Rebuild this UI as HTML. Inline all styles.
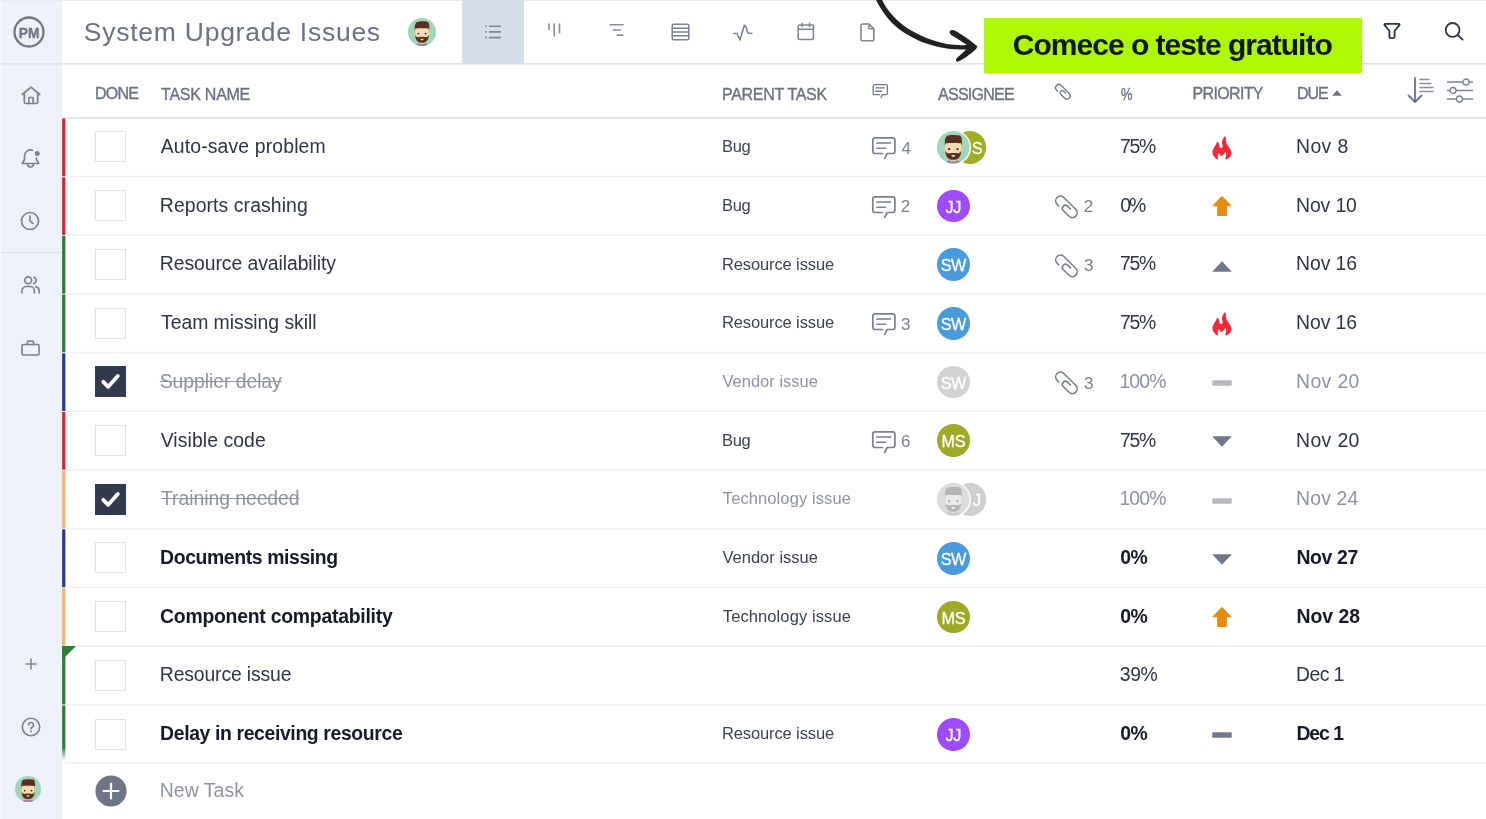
<!DOCTYPE html>
<html lang="en">
<head>
<meta charset="utf-8">
<title>System Upgrade Issues</title>
<style>
*{margin:0;padding:0;box-sizing:border-box}
html,body{width:1486px;height:819px;overflow:hidden;background:#fff}
body{font-family:"Liberation Sans",sans-serif;color:#2f3546;position:relative;filter:blur(0.4px)}
.abs{position:absolute}
#side{position:absolute;left:0;top:0;width:61.5px;height:819px;background:#edf1f8}
#side .div{position:absolute;left:0;width:62px;height:1px;background:#dde1ea}
#topline{position:absolute;left:0;top:0;width:1486px;height:1px;background:#e9ebf0}
#tabact{position:absolute;left:461.8px;top:0;width:62.5px;height:63.5px;background:#d7dde9}
#cta{position:absolute;left:984px;top:18px;width:377.5px;height:54.5px;background:#aef805}
.cb{position:absolute;left:94.5px;width:31px;height:31px;border:1px solid #dfe2ea;background:#fff}
.cb.on{background:#343a4d;border-color:#343a4d}
.cb.on svg{position:absolute;left:-1px;top:-1px}
.t{position:absolute;white-space:nowrap;line-height:40px}
.av{position:absolute;width:32.8px;height:32.8px;border-radius:50%;color:#fff;font-size:16.2px;line-height:34px;text-align:center;letter-spacing:-0.4px;text-indent:-0.4px;-webkit-text-stroke:0.3px #fff}
</style>
</head>
<body>
<div id="side">
  <svg class="abs" style="left:12.9px;top:15.8px" width="32" height="32" viewBox="0 0 32 32"><circle cx="16" cy="16" r="14.5" fill="none" stroke="#6f7587" stroke-width="2.3"/><text x="5.7" y="21.8" font-family="Liberation Sans, sans-serif" font-weight="bold" font-size="15.3" fill="#6f7587" stroke="#6f7587" stroke-width="0.3" textLength="20.8" lengthAdjust="spacingAndGlyphs">PM</text></svg>
  <svg class="abs" style="left:20.5px;top:85.5px" width="20" height="19" viewBox="0 0 20 19" fill="none" stroke="#7d818c" stroke-width="1.7" stroke-linejoin="round" stroke-linecap="round"><path d="M1.2 8.5 L10 1.2 L18.8 8.5"/><path d="M3.3 7.5 V16.2 a1.3 1.3 0 0 0 1.3 1.3 H15.4 a1.3 1.3 0 0 0 1.3 -1.3 V7.5"/><path d="M7.8 17.5 V12.5 a1 1 0 0 1 1 -1 H11.2 a1 1 0 0 1 1 1 V17.5"/></svg>
  <svg class="abs" style="left:21px;top:147.5px" width="20" height="21" viewBox="0 0 20 21" fill="none" stroke="#7d818c" stroke-width="1.7" stroke-linejoin="round" stroke-linecap="round"><path d="M11.5 2.3 A6 6 0 0 0 3.5 8 V11.5 L1.3 15.5 H17.7 L15.5 11.5 V10"/><path d="M6.5 16 a3 3 0 0 0 6 0"/><circle cx="16.2" cy="5.6" r="2.5" fill="#7d818c" stroke="none"/></svg>
  <svg class="abs" style="left:20.3px;top:210.9px" width="20" height="20" viewBox="0 0 20 20" fill="none" stroke="#7d818c" stroke-width="1.7" stroke-linejoin="round" stroke-linecap="round"><circle cx="10" cy="10" r="8.5"/><path d="M10 5 V10 L13 12.5"/></svg>
  <div class="div" style="top:252px"></div>
  <svg class="abs" style="left:20.6px;top:275.3px" width="19.2" height="19.2" viewBox="0 0 20 20" fill="none" stroke="#7d818c" stroke-width="1.7" stroke-linejoin="round" stroke-linecap="round"><circle cx="7.5" cy="5.5" r="3.6"/><path d="M1 18.7 V16.5 a4.5 4.5 0 0 1 4.5 -4.5 H9.5 a4.5 4.5 0 0 1 4.5 4.5 V18.7"/><path d="M13.3 2.1 a3.6 3.6 0 0 1 0 6.8"/><path d="M15.5 12.3 a4.5 4.5 0 0 1 3.5 4.3 V18.7"/></svg>
  <svg class="abs" style="left:20.6px;top:339.7px" width="19" height="16.15" viewBox="0 0 20 17" fill="none" stroke="#7d818c" stroke-width="1.7" stroke-linejoin="round" stroke-linecap="round"><rect x="1" y="4.8" width="18" height="11" rx="1.5"/><path d="M6.8 4.8 V2.5 a1.3 1.3 0 0 1 1.3 -1.3 H11.9 a1.3 1.3 0 0 1 1.3 1.3 V4.8"/></svg>
  <svg class="abs" style="left:24.8px;top:658.3px" width="12" height="12" viewBox="0 0 12 12" fill="none" stroke="#7d818c" stroke-width="1.5"><path d="M6 0.5 V11.5 M0.5 6 H11.5"/></svg>
  <svg class="abs" style="left:20.8px;top:716.8px" width="20" height="20" viewBox="0 0 20 20" fill="none" stroke="#7d818c" stroke-width="1.6" stroke-linecap="round"><circle cx="10" cy="10" r="8.7"/><path d="M7.5 8 a2.5 2.5 0 1 1 3.5 2.3 c-0.7 0.4 -1 0.8 -1 1.7"/><circle cx="10" cy="14.5" r="1" fill="#7d818c" stroke="none"/></svg>
  <svg class="abs" style="left:14.9px;top:775.9px" width="26.2" height="26.2" viewBox="0 0 28 28">
<defs><clipPath id="ct2"><circle cx="14" cy="14" r="14"/></clipPath></defs>
<circle cx="14" cy="14" r="14" fill="#9fd5bb"/>
<g clip-path="url(#ct2)">
<path d="M7.5 29 C7.5 25.8 10 25 14 25 C18 25 20.5 25.8 20.5 29 Z" fill="#8b88a2"/>
<rect x="11.5" y="22" width="5" height="4" fill="#f3c59a"/>
<circle cx="6.9" cy="16.6" r="1.3" fill="#f3c59a"/><circle cx="21.1" cy="16.6" r="1.3" fill="#f3c59a"/>
<rect x="7.4" y="8.5" width="13.2" height="13" rx="3" fill="#f8dcb1"/>
<path d="M6.8 12.5 C6.4 6.5 7.5 3.8 10.5 3.7 C12.5 3.2 17 3.3 19.5 3.8 C21.5 4.5 21.6 8 21.2 12.5 L20.6 10.6 C17 10.2 11 10.2 7.4 10.6 Z" fill="#5b2f1d"/>
<path d="M7.2 16.5 C7 21.5 9.5 24.8 14 24.8 C18.5 24.8 21 21.5 20.8 16.5 C20.3 18.6 19 19.3 17 19.1 C15.5 18.7 12.5 18.7 11 19.1 C9 19.3 7.7 18.6 7.2 16.5 Z" fill="#5b2f1d"/>
<path d="M12.4 20.7 H15.6 C15.6 21.8 15 22.3 14 22.3 C13 22.3 12.4 21.8 12.4 20.7 Z" fill="#d9cfcb"/>
<circle cx="10.4" cy="15.6" r="0.95" fill="#3a2a20"/><circle cx="17.6" cy="15.6" r="0.95" fill="#3a2a20"/>
</g></svg>
</div>
<div class="abs" style="left:0;top:0;width:1px;height:819px;background:#f7f8fc"></div>
<div id="topline"></div>
<svg class="abs" style="left:0;top:0" width="1486" height="819" viewBox="0 0 1486 819"><defs><linearGradient id="fade" x1="0" y1="0" x2="0" y2="1"><stop offset="0" stop-color="#2f7d3b"/><stop offset="0.76" stop-color="#2f7d3b"/><stop offset="1" stop-color="#2f7d3b" stop-opacity="0"/></linearGradient></defs><rect x="0" y="63.05" width="1486" height="1.5" fill="#dfe2e9"/><rect x="61.5" y="116.9" width="1425" height="2" fill="#e3e5ec"/><rect x="62.1" y="118.45" width="3.3" height="57.8" rx="0.6" fill="#e5202e"/><rect x="65.6" y="175.75" width="1421" height="1.5" fill="#eef0f5"/><rect x="62.1" y="177.15" width="3.3" height="57.8" rx="0.6" fill="#e5202e"/><rect x="65.6" y="234.45" width="1421" height="1.5" fill="#eef0f5"/><rect x="62.1" y="235.85" width="3.3" height="57.8" rx="0.6" fill="#2f7d3b"/><rect x="65.6" y="293.15" width="1421" height="1.5" fill="#eef0f5"/><rect x="62.1" y="294.55" width="3.3" height="57.8" rx="0.6" fill="#2f7d3b"/><rect x="65.6" y="351.85" width="1421" height="1.5" fill="#eef0f5"/><rect x="62.1" y="353.25" width="3.3" height="57.8" rx="0.6" fill="#2b36a0"/><rect x="65.6" y="410.55" width="1421" height="1.5" fill="#eef0f5"/><rect x="62.1" y="411.95" width="3.3" height="57.8" rx="0.6" fill="#e5202e"/><rect x="65.6" y="469.25" width="1421" height="1.5" fill="#eef0f5"/><rect x="62.1" y="470.65" width="3.3" height="57.8" rx="0.6" fill="#f4b678"/><rect x="65.6" y="527.95" width="1421" height="1.5" fill="#eef0f5"/><rect x="62.1" y="529.35" width="3.3" height="57.8" rx="0.6" fill="#2b36a0"/><rect x="65.6" y="586.65" width="1421" height="1.5" fill="#eef0f5"/><rect x="62.1" y="588.05" width="3.3" height="57.8" rx="0.6" fill="#f4b678"/><rect x="65.6" y="645.35" width="1421" height="1.5" fill="#eef0f5"/><rect x="62.1" y="646.75" width="3.3" height="57.8" rx="0.6" fill="#2f7d3b"/><rect x="65.6" y="704.05" width="1421" height="1.5" fill="#eef0f5"/><rect x="62.1" y="705.45" width="3.3" height="55" rx="0.6" fill="url(#fade)"/><rect x="65.6" y="762.1" width="1421" height="1.5" fill="#eef0f5"/></svg>
<div id="tabact"></div>
<div class="t" style="left:83.8px;top:12px;font-size:26.5px;letter-spacing:0.75px;color:#6b7283;">System Upgrade Issues</div>
<svg class="abs" style="left:408px;top:17.8px" width="28" height="28" viewBox="0 0 28 28">
<defs><clipPath id="ct1"><circle cx="14" cy="14" r="14"/></clipPath></defs>
<circle cx="14" cy="14" r="14" fill="#9fd5bb"/>
<g clip-path="url(#ct1)">
<path d="M7.5 29 C7.5 25.8 10 25 14 25 C18 25 20.5 25.8 20.5 29 Z" fill="#8b88a2"/>
<rect x="11.5" y="22" width="5" height="4" fill="#f3c59a"/>
<circle cx="6.9" cy="16.6" r="1.3" fill="#f3c59a"/><circle cx="21.1" cy="16.6" r="1.3" fill="#f3c59a"/>
<rect x="7.4" y="8.5" width="13.2" height="13" rx="3" fill="#f8dcb1"/>
<path d="M6.8 12.5 C6.4 6.5 7.5 3.8 10.5 3.7 C12.5 3.2 17 3.3 19.5 3.8 C21.5 4.5 21.6 8 21.2 12.5 L20.6 10.6 C17 10.2 11 10.2 7.4 10.6 Z" fill="#5b2f1d"/>
<path d="M7.2 16.5 C7 21.5 9.5 24.8 14 24.8 C18.5 24.8 21 21.5 20.8 16.5 C20.3 18.6 19 19.3 17 19.1 C15.5 18.7 12.5 18.7 11 19.1 C9 19.3 7.7 18.6 7.2 16.5 Z" fill="#5b2f1d"/>
<path d="M12.4 20.7 H15.6 C15.6 21.8 15 22.3 14 22.3 C13 22.3 12.4 21.8 12.4 20.7 Z" fill="#d9cfcb"/>
<circle cx="10.4" cy="15.6" r="0.95" fill="#3a2a20"/><circle cx="17.6" cy="15.6" r="0.95" fill="#3a2a20"/>
</g></svg>
<!-- view icons -->
<svg class="abs" style="left:482px;top:22px" width="22" height="20" viewBox="0 0 22 20" fill="none" stroke="#7f8494" stroke-width="1.6"><path d="M7 4.2 H19 M7 9.9 H19 M7 15.6 H19"/><path d="M3 4.2 H4.7 M3 9.9 H4.7 M3 15.6 H4.7"/></svg>
<svg class="abs" style="left:544px;top:20px" width="20" height="20" viewBox="0 0 20 20" fill="none" stroke="#8a8e9a" stroke-width="1.6"><path d="M4.9 3.5 V10 M10.2 3.5 V16.5 M15.5 3.5 V13.5"/></svg>
<svg class="abs" style="left:607px;top:22px" width="20" height="20" viewBox="0 0 20 20" fill="none" stroke="#8a8e9a" stroke-width="1.6"><path d="M2.5 2.8 H16.5 M5.5 8 H14 M9.7 13.1 H16.5"/></svg>
<svg class="abs" style="left:670.7px;top:22.7px" width="19" height="18" viewBox="0 0 19 18" fill="none" stroke="#7f8494" stroke-width="1.6" stroke-linejoin="round"><rect x="1.2" y="1.2" width="16.6" height="15.6" rx="1.5"/><path d="M1.2 5.2 H17.8 M1.2 9 H17.8 M1.2 12.8 H17.8"/></svg>
<svg class="abs" style="left:732px;top:21.5px" width="22" height="22" viewBox="0 0 22 22" fill="none" stroke="#7f8494" stroke-width="1.6" stroke-linejoin="round" stroke-linecap="round"><path d="M1.8 11.5 H5 L8 18 L12.3 3.5 C13.3 3 14.3 5 15.3 9.5 C15.8 11.3 17.3 11.8 19.8 11.3"/></svg>
<svg class="abs" style="left:796.5px;top:22px" width="18" height="19" viewBox="0 0 18 19" fill="none" stroke="#7f8494" stroke-width="1.6" stroke-linejoin="round" stroke-linecap="round"><rect x="1.2" y="3" width="15.2" height="14.5" rx="1.5"/><path d="M1.2 7.3 H16.4 M5 1.2 V4.5 M12.6 1.2 V4.5"/></svg>
<svg class="abs" style="left:859.5px;top:22.9px" width="15" height="19" viewBox="0 0 15 19" fill="none" stroke="#7f8494" stroke-width="1.6" stroke-linejoin="round"><path d="M2.5 1 H9 L13.8 5.8 V16.3 a1.5 1.5 0 0 1 -1.5 1.5 H2.5 a1.5 1.5 0 0 1 -1.5 -1.5 V2.5 a1.5 1.5 0 0 1 1.5 -1.5 Z"/><path d="M9 1 V5.8 H13.8"/></svg>
<!-- arrow -->
<svg class="abs" style="left:860px;top:0" width="130" height="70" viewBox="860 0 130 70"><path d="M872.4 -6.5 C872 -5.4 874.7 -2.4 876.1 0 C877.4 2.4 878.8 5.4 880.5 8.1 C882.2 10.8 883.9 13.3 886.2 16.2 C888.4 19 891.5 22.5 894.2 25 C896.9 27.6 899.6 29.6 902.3 31.5 C905 33.4 907.7 34.9 910.4 36.3 C913.1 37.8 915.8 39.2 918.5 40.4 C921.2 41.6 923.9 42.7 926.5 43.6 C929.2 44.6 931.9 45.3 934.6 46 C937.3 46.7 940 47.3 942.7 47.8 C945.4 48.3 948.1 48.6 950.8 48.9 C953.5 49.1 956.2 49.3 958.9 49.4 C961.5 49.5 964.8 49.5 966.9 49.4 C969.1 49.3 971 49.4 971.8 48.9 C972.6 48.3 972.6 46.7 971.8 46 C971 45.4 968.4 45.1 966.9 45 C965.4 44.9 964.9 45.3 962.9 45.2 C960.9 45.2 957.5 45.1 954.8 44.8 C952.1 44.6 949.4 44.3 946.7 43.9 C944 43.4 941.4 42.7 938.7 42 C936 41.3 933.3 40.5 930.6 39.6 C927.9 38.6 925.2 37.6 922.5 36.3 C919.8 35.1 917.1 33.8 914.4 32.3 C911.7 30.8 909 29.3 906.3 27.5 C903.7 25.6 900.7 23.2 898.3 21 C895.8 18.8 893.8 16.8 891.8 14.5 C889.8 12.3 887.8 9.7 886.2 7.3 C884.5 4.8 883.3 2.3 882.1 0 C880.9 -2.3 880.5 -5.4 878.9 -6.5 C877.3 -7.5 872.9 -7.5 872.4 -6.5Z" fill="#212121"/><path d="M951.6 30 C952.6 29.9 953.7 30.2 955.6 31.1 C957.5 32 960.3 33.9 962.9 35.5 C965.4 37.2 968.7 39.5 971 41.2 C973.2 42.9 975.4 44.7 976.5 45.6 C977.5 46.6 977.4 46.3 977.1 47 C976.9 47.8 976.7 48.5 975 50.1 C973.3 51.7 969.6 54.7 966.9 56.5 C964.2 58.4 960.5 60.4 958.9 61.2 C957.2 62 957.3 61.6 956.8 61.4 C956.3 61.2 955.9 60.7 955.9 60.2 C955.9 59.7 955.9 59.3 956.8 58.3 C957.7 57.3 959.7 55.6 961.3 54.1 C962.8 52.6 965 50.6 966.1 49.4 C967.3 48.3 968 48 968.1 47.3 C968.3 46.5 968.5 46.2 966.9 45 C965.4 43.7 961.1 41.2 958.9 39.7 C956.6 38.3 954.6 37.3 953.2 36.3 C951.8 35.4 951 34.7 950.4 33.9 C949.8 33.2 949.4 32.6 949.6 31.9 C949.8 31.3 950.6 30.2 951.6 30Z" fill="#212121"/></svg>
<div id="cta"></div>
<div class="t" style="left:1012.8px;top:25px;font-size:30px;font-weight:bold;letter-spacing:-0.99px;color:#111624;">Comece o teste gratuito</div>
<svg class="abs" style="left:1382.2px;top:20.8px" width="20" height="20" viewBox="0 0 20 20" fill="none" stroke="#2f3546" stroke-width="1.8" stroke-linejoin="round"><path d="M3.2 2.8 H16.8 a0.8 0.8 0 0 1 0.6 1.3 L12.6 10 V15.7 a1.4 1.4 0 0 1 -1.4 1.4 H8.8 a1.4 1.4 0 0 1 -1.4 -1.4 V10 L2.6 4.1 A0.8 0.8 0 0 1 3.2 2.8 Z"/></svg>
<svg class="abs" style="left:1443px;top:21px" width="22" height="22" viewBox="0 0 22 22" fill="none" stroke="#2f3546" stroke-width="1.8" stroke-linecap="round"><circle cx="9.6" cy="8.9" r="6.9"/><path d="M14.7 14 L19.6 18.6"/></svg>
<!-- header -->
<div class="t" style="left:95.1px;top:74px;font-size:16px;letter-spacing:-0.81px;color:#6b7283;-webkit-text-stroke:0.35px #6b7283;">DONE</div>
<div class="t" style="left:161.1px;top:75px;font-size:16px;letter-spacing:-0.26px;color:#6b7283;-webkit-text-stroke:0.35px #6b7283;">TASK NAME</div>
<div class="t" style="left:722px;top:75px;font-size:16px;letter-spacing:-0.31px;color:#6b7283;-webkit-text-stroke:0.35px #6b7283;">PARENT TASK</div>
<div class="t" style="left:938.1px;top:75px;font-size:16px;letter-spacing:-0.75px;color:#6b7283;-webkit-text-stroke:0.35px #6b7283;">ASSIGNEE</div>
<div class="t" style="left:1121.4px;top:75px;font-size:16px;letter-spacing:0px;color:#6b7283;-webkit-text-stroke:0.35px #6b7283;transform:scaleX(0.8);transform-origin:0 50%;">%</div>
<div class="t" style="left:1192.5px;top:74px;font-size:16px;letter-spacing:-0.65px;color:#6b7283;-webkit-text-stroke:0.35px #6b7283;">PRIORITY</div>
<div class="t" style="left:1296.9px;top:74px;font-size:16px;letter-spacing:-1.06px;color:#6b7283;-webkit-text-stroke:0.35px #6b7283;">DUE</div>
<svg class="abs" style="left:871.7px;top:84.3px;overflow:visible" width="16.8" height="14.8" viewBox="0 0 26 23" fill="none" stroke="#70778a" stroke-width="2.02" stroke-linecap="round" stroke-linejoin="round"><path d="M11.5 16.5H4a2.2 2.2 0 0 1-2.2-2.2V3.1A2.2 2.2 0 0 1 4 0.9H21.7a2.2 2.2 0 0 1 2.2 2.2V14.3a2.2 2.2 0 0 1-2.2 2.2H16.2L13.7 21.4"/><path d="M6 6H19.5M6 11.25H14.5"/></svg>
<svg class="abs" style="left:1048.5px;top:79.3px;overflow:visible" width="38.1" height="25.8" viewBox="0 0 1207 819" fill="none" stroke="#70778a" stroke-width="42.8" stroke-linecap="round" stroke-linejoin="round"><path d="M275 388 L235 344 A102 102 0 0 1 379 200 L644.5 462.5 A104 104 0 0 1 497.5 609.5 L370 486 A68 68 0 0 1 466 390 L525 449"/></svg>
<svg class="abs" style="left:1331.7px;top:89.8px" width="10" height="6" viewBox="0 0 10 6"><path d="M5 0.3 L9.8 5.7 H0.2 Z" fill="#6b7283"/></svg>
<svg class="abs" style="left:1406px;top:76px" width="30" height="28" viewBox="0 0 30 28" fill="none" stroke="#6b7283" stroke-linecap="round" stroke-linejoin="round"><path d="M9 2 V25.5 M2.5 19.5 L9 26 L15.5 19.5" stroke-width="1.8"/><path d="M14 3.5 H23 M14 7.5 H25 M14 11.5 H27 M14 15.5 H27" stroke-width="1.4" stroke="#8a90a0"/></svg>
<svg class="abs" style="left:1446px;top:77px" width="28" height="28" viewBox="0 0 28 28" fill="none" stroke="#7b8194" stroke-width="1.3"><path d="M1 5 H17 M23 5 H27 M1 13.5 H4 M10 13.5 H27 M1 22 H10.5 M16.5 22 H27"/><circle cx="20" cy="5" r="3" fill="#fff"/><circle cx="7" cy="13.5" r="3" fill="#fff"/><circle cx="13.5" cy="22" r="3" fill="#fff"/></svg>
<div class="cb" style="top:131.4px"></div>
<div class="t" style="left:160.7px;top:126px;font-size:19.4px;letter-spacing:0.14px;color:#2f3546;">Auto-save problem</div>
<div class="t" style="left:721.9px;top:126px;font-size:16.5px;letter-spacing:-0.23px;color:#3c4254;">Bug</div>
<svg class="abs" style="left:871px;top:137.1px;overflow:visible" width="26" height="23" viewBox="0 0 26 23" fill="none" stroke="#7a7f8e" stroke-width="1.7" stroke-linecap="round" stroke-linejoin="round"><path d="M11.5 16.5H4a2.2 2.2 0 0 1-2.2-2.2V3.1A2.2 2.2 0 0 1 4 0.9H21.7a2.2 2.2 0 0 1 2.2 2.2V14.3a2.2 2.2 0 0 1-2.2 2.2H16.2L13.7 21.4"/><path d="M6 6H19.5M6 11.25H14.5"/></svg>
<div class="t" style="left:901.4px;top:129px;font-size:17px;letter-spacing:0px;color:#7b8190;">4</div>
<div class="av" style="left:953.5px;top:131px;background:#a0ae22;padding-left:14.5px">S</div>
<div class="abs" style="left:935.8px;top:129.6px;width:35.4px;height:35.4px;border-radius:50%;background:#fff"></div>
<svg class="abs" style="left:937.2px;top:131px" width="32.6" height="32.6" viewBox="0 0 28 28">
<defs><clipPath id="cr0"><circle cx="14" cy="14" r="14"/></clipPath></defs>
<circle cx="14" cy="14" r="14" fill="#9fd5bb"/>
<g clip-path="url(#cr0)">
<path d="M7.5 29 C7.5 25.8 10 25 14 25 C18 25 20.5 25.8 20.5 29 Z" fill="#8b88a2"/>
<rect x="11.5" y="22" width="5" height="4" fill="#f3c59a"/>
<circle cx="6.9" cy="16.6" r="1.3" fill="#f3c59a"/><circle cx="21.1" cy="16.6" r="1.3" fill="#f3c59a"/>
<rect x="7.4" y="8.5" width="13.2" height="13" rx="3" fill="#f8dcb1"/>
<path d="M6.8 12.5 C6.4 6.5 7.5 3.8 10.5 3.7 C12.5 3.2 17 3.3 19.5 3.8 C21.5 4.5 21.6 8 21.2 12.5 L20.6 10.6 C17 10.2 11 10.2 7.4 10.6 Z" fill="#5b2f1d"/>
<path d="M7.2 16.5 C7 21.5 9.5 24.8 14 24.8 C18.5 24.8 21 21.5 20.8 16.5 C20.3 18.6 19 19.3 17 19.1 C15.5 18.7 12.5 18.7 11 19.1 C9 19.3 7.7 18.6 7.2 16.5 Z" fill="#5b2f1d"/>
<path d="M12.4 20.7 H15.6 C15.6 21.8 15 22.3 14 22.3 C13 22.3 12.4 21.8 12.4 20.7 Z" fill="#d9cfcb"/>
<circle cx="10.4" cy="15.6" r="0.95" fill="#3a2a20"/><circle cx="17.6" cy="15.6" r="0.95" fill="#3a2a20"/>
</g></svg>
<div class="t" style="left:1120.1px;top:126px;font-size:19.4px;letter-spacing:-1.35px;color:#2f3546;">75%</div>
<svg class="abs" style="left:1202px;top:130.2px" width="40" height="36" viewBox="0 0 910 819"><path d="M530 138 C533 148 542 176 546 200 C550 224 545 253 552 280 C559 307 575 335 590 360 C605 385 627 407 640 430 C653 453 666 478 670 500 C674 522 672 540 665 560 C658 580 645 604 630 620 C615 636 593 647 575 655 C557 663 531 666 522 668 C526 658 540 630 545 610 C550 590 554 569 552 550 C550 531 535 504 532 495 C528 501 514 518 505 530 C496 542 490 561 480 570 C470 579 457 585 445 585 C433 585 419 580 410 570 C401 560 395 535 392 528 C388 532 376 539 370 550 C364 561 359 580 358 595 C357 610 363 627 365 640 C367 653 371 667 372 672 C365 669 345 662 330 652 C315 642 294 629 280 612 C266 595 252 571 245 552 C238 533 236 520 238 500 C240 480 248 453 258 430 C268 407 288 382 300 360 C312 338 322 316 330 300 C338 284 345 268 348 262 C352 267 368 279 375 290 C382 301 386 317 390 330 C394 343 392 358 396 370 C400 382 405 393 412 400 C419 407 431 411 440 410 C449 409 460 402 465 392 C470 382 472 365 470 350 C468 335 457 318 455 300 C453 282 454 260 460 240 C466 220 478 197 490 180 C502 163 523 145 530 138Z" fill="#ee2b37"/></svg>
<div class="t" style="left:1296.1px;top:126px;font-size:19.4px;letter-spacing:0.36px;color:#2f3546;">Nov 8</div>
<div class="cb" style="top:190.1px"></div>
<div class="t" style="left:159.8px;top:185px;font-size:19.4px;letter-spacing:0.09px;color:#2f3546;">Reports crashing</div>
<div class="t" style="left:721.9px;top:185px;font-size:16.5px;letter-spacing:-0.23px;color:#3c4254;">Bug</div>
<svg class="abs" style="left:871px;top:195.8px;overflow:visible" width="26" height="23" viewBox="0 0 26 23" fill="none" stroke="#7a7f8e" stroke-width="1.7" stroke-linecap="round" stroke-linejoin="round"><path d="M11.5 16.5H4a2.2 2.2 0 0 1-2.2-2.2V3.1A2.2 2.2 0 0 1 4 0.9H21.7a2.2 2.2 0 0 1 2.2 2.2V14.3a2.2 2.2 0 0 1-2.2 2.2H16.2L13.7 21.4"/><path d="M6 6H19.5M6 11.25H14.5"/></svg>
<div class="t" style="left:900.7px;top:187px;font-size:17px;letter-spacing:0px;color:#7b8190;">2</div>
<div class="av" style="left:937.1px;top:189.6px;background:#9d4bfb">JJ</div>
<svg class="abs" style="left:1046px;top:187.9px;overflow:visible" width="56" height="38" viewBox="0 0 1207 819" fill="none" stroke="#7a7f8e" stroke-width="34.5" stroke-linecap="round" stroke-linejoin="round"><path d="M275 388 L235 344 A102 102 0 0 1 379 200 L644.5 462.5 A104 104 0 0 1 497.5 609.5 L370 486 A68 68 0 0 1 466 390 L525 449"/></svg>
<div class="t" style="left:1083.7px;top:187px;font-size:17px;letter-spacing:0px;color:#7b8190;">2</div>
<div class="t" style="left:1120.2px;top:185px;font-size:19.4px;letter-spacing:-1.9px;color:#2f3546;">0%</div>
<svg class="abs" style="left:1212.2px;top:196px" width="20" height="20" viewBox="0 0 20 20"><path d="M9.6 0.3 Q10 -0.1 10.4 0.3 L19.6 9.7 Q20 10.3 19.3 10.3 H14.9 V19 a0.9 0.9 0 0 1 -0.9 0.9 H6 a0.9 0.9 0 0 1 -0.9 -0.9 V10.3 H0.7 Q0 10.3 0.4 9.7 Z" fill="#e48c0e"/></svg>
<div class="t" style="left:1296.1px;top:185px;font-size:19.4px;letter-spacing:-0.14px;color:#2f3546;">Nov 10</div>
<div class="cb" style="top:248.8px"></div>
<div class="t" style="left:159.8px;top:243px;font-size:19.4px;letter-spacing:-0.08px;color:#2f3546;">Resource availability</div>
<div class="t" style="left:721.9px;top:244px;font-size:16.5px;letter-spacing:-0.11px;color:#3c4254;">Resource issue</div>
<div class="av" style="left:937.1px;top:248.3px;background:#4a9bdc">SW</div>
<svg class="abs" style="left:1046px;top:246.6px;overflow:visible" width="56" height="38" viewBox="0 0 1207 819" fill="none" stroke="#7a7f8e" stroke-width="34.5" stroke-linecap="round" stroke-linejoin="round"><path d="M275 388 L235 344 A102 102 0 0 1 379 200 L644.5 462.5 A104 104 0 0 1 497.5 609.5 L370 486 A68 68 0 0 1 466 390 L525 449"/></svg>
<div class="t" style="left:1083.9px;top:246px;font-size:17px;letter-spacing:0px;color:#7b8190;">3</div>
<div class="t" style="left:1120.1px;top:243px;font-size:19.4px;letter-spacing:-1.35px;color:#2f3546;">75%</div>
<svg class="abs" style="left:1212.2px;top:260.6px" width="20" height="11" viewBox="0 0 20 11"><path d="M10 0.3 L19.8 10.8 H0.2 Z" fill="#70778a"/></svg>
<div class="t" style="left:1296.1px;top:243px;font-size:19.4px;letter-spacing:-0.12px;color:#2f3546;">Nov 16</div>
<div class="cb" style="top:307.5px"></div>
<div class="t" style="left:161px;top:302px;font-size:19.4px;letter-spacing:-0.04px;color:#2f3546;">Team missing skill</div>
<div class="t" style="left:721.9px;top:302px;font-size:16.5px;letter-spacing:-0.11px;color:#3c4254;">Resource issue</div>
<svg class="abs" style="left:871px;top:313.2px;overflow:visible" width="26" height="23" viewBox="0 0 26 23" fill="none" stroke="#7a7f8e" stroke-width="1.7" stroke-linecap="round" stroke-linejoin="round"><path d="M11.5 16.5H4a2.2 2.2 0 0 1-2.2-2.2V3.1A2.2 2.2 0 0 1 4 0.9H21.7a2.2 2.2 0 0 1 2.2 2.2V14.3a2.2 2.2 0 0 1-2.2 2.2H16.2L13.7 21.4"/><path d="M6 6H19.5M6 11.25H14.5"/></svg>
<div class="t" style="left:900.9px;top:305px;font-size:17px;letter-spacing:0px;color:#7b8190;">3</div>
<div class="av" style="left:937.1px;top:307px;background:#4a9bdc">SW</div>
<div class="t" style="left:1120.1px;top:302px;font-size:19.4px;letter-spacing:-1.35px;color:#2f3546;">75%</div>
<svg class="abs" style="left:1202px;top:306.4px" width="40" height="36" viewBox="0 0 910 819"><path d="M530 138 C533 148 542 176 546 200 C550 224 545 253 552 280 C559 307 575 335 590 360 C605 385 627 407 640 430 C653 453 666 478 670 500 C674 522 672 540 665 560 C658 580 645 604 630 620 C615 636 593 647 575 655 C557 663 531 666 522 668 C526 658 540 630 545 610 C550 590 554 569 552 550 C550 531 535 504 532 495 C528 501 514 518 505 530 C496 542 490 561 480 570 C470 579 457 585 445 585 C433 585 419 580 410 570 C401 560 395 535 392 528 C388 532 376 539 370 550 C364 561 359 580 358 595 C357 610 363 627 365 640 C367 653 371 667 372 672 C365 669 345 662 330 652 C315 642 294 629 280 612 C266 595 252 571 245 552 C238 533 236 520 238 500 C240 480 248 453 258 430 C268 407 288 382 300 360 C312 338 322 316 330 300 C338 284 345 268 348 262 C352 267 368 279 375 290 C382 301 386 317 390 330 C394 343 392 358 396 370 C400 382 405 393 412 400 C419 407 431 411 440 410 C449 409 460 402 465 392 C470 382 472 365 470 350 C468 335 457 318 455 300 C453 282 454 260 460 240 C466 220 478 197 490 180 C502 163 523 145 530 138Z" fill="#ee2b37"/></svg>
<div class="t" style="left:1296.1px;top:302px;font-size:19.4px;letter-spacing:-0.12px;color:#2f3546;">Nov 16</div>
<div class="cb on" style="top:366.2px"><svg width="31" height="31" viewBox="0 0 31 31"><path d="M8.3 15.8 L13.2 20.8 L22.8 10" fill="none" stroke="#fff" stroke-width="3.8" stroke-linecap="round" stroke-linejoin="round"/></svg></div>
<div class="t" style="left:159.7px;top:361px;font-size:19.4px;letter-spacing:-0.06px;color:#8e939f;text-decoration:line-through;">Supplier delay</div>
<div class="t" style="left:722.5px;top:361px;font-size:16.5px;letter-spacing:-0px;color:#8e939f;">Vendor issue</div>
<div class="av" style="left:937.1px;top:365.7px;background:#d2d2d2">SW</div>
<svg class="abs" style="left:1046px;top:364px;overflow:visible" width="56" height="38" viewBox="0 0 1207 819" fill="none" stroke="#7a7f8e" stroke-width="34.5" stroke-linecap="round" stroke-linejoin="round"><path d="M275 388 L235 344 A102 102 0 0 1 379 200 L644.5 462.5 A104 104 0 0 1 497.5 609.5 L370 486 A68 68 0 0 1 466 390 L525 449"/></svg>
<div class="t" style="left:1083.9px;top:364px;font-size:17px;letter-spacing:0px;color:#7b8190;">3</div>
<div class="t" style="left:1119.4px;top:361px;font-size:19.4px;letter-spacing:-0.83px;color:#8e939f;">100%</div>
<svg class="abs" style="left:1211.2px;top:378.2px" width="22" height="10" viewBox="0 0 22 10"><rect x="1.3" y="2.15" width="19.4" height="5.7" rx="1.2" fill="#b6b8bf"/></svg>
<div class="t" style="left:1296.1px;top:361px;font-size:19.4px;letter-spacing:0.36px;color:#8e939f;">Nov 20</div>
<div class="cb" style="top:424.9px"></div>
<div class="t" style="left:160.7px;top:420px;font-size:19.4px;letter-spacing:0.08px;color:#2f3546;">Visible code</div>
<div class="t" style="left:721.9px;top:420px;font-size:16.5px;letter-spacing:-0.23px;color:#3c4254;">Bug</div>
<svg class="abs" style="left:871px;top:430.6px;overflow:visible" width="26" height="23" viewBox="0 0 26 23" fill="none" stroke="#7a7f8e" stroke-width="1.7" stroke-linecap="round" stroke-linejoin="round"><path d="M11.5 16.5H4a2.2 2.2 0 0 1-2.2-2.2V3.1A2.2 2.2 0 0 1 4 0.9H21.7a2.2 2.2 0 0 1 2.2 2.2V14.3a2.2 2.2 0 0 1-2.2 2.2H16.2L13.7 21.4"/><path d="M6 6H19.5M6 11.25H14.5"/></svg>
<div class="t" style="left:900.9px;top:422px;font-size:17px;letter-spacing:0px;color:#7b8190;">6</div>
<div class="av" style="left:937.1px;top:424.4px;background:#a0a828">MS</div>
<div class="t" style="left:1120.1px;top:420px;font-size:19.4px;letter-spacing:-1.35px;color:#2f3546;">75%</div>
<svg class="abs" style="left:1212.2px;top:436.1px" width="20" height="11" viewBox="0 0 20 11"><path d="M0.2 0.2 H19.8 L10 10.7 Z" fill="#70778a"/></svg>
<div class="t" style="left:1296.1px;top:420px;font-size:19.4px;letter-spacing:0.36px;color:#2f3546;">Nov 20</div>
<div class="cb on" style="top:483.6px"><svg width="31" height="31" viewBox="0 0 31 31"><path d="M8.3 15.8 L13.2 20.8 L22.8 10" fill="none" stroke="#fff" stroke-width="3.8" stroke-linecap="round" stroke-linejoin="round"/></svg></div>
<div class="t" style="left:161px;top:478px;font-size:19.4px;letter-spacing:-0.06px;color:#8e939f;text-decoration:line-through;">Training needed</div>
<div class="t" style="left:722.8px;top:478px;font-size:16.5px;letter-spacing:0.1px;color:#8e939f;">Technology issue</div>
<div class="av" style="left:953.5px;top:483.2px;background:#cfcfcf;padding-left:14.5px">J</div>
<div class="abs" style="left:935.8px;top:481.8px;width:35.4px;height:35.4px;border-radius:50%;background:#fff"></div>
<svg class="abs" style="left:937.2px;top:483.2px" width="32.6" height="32.6" viewBox="0 0 28 28">
<defs><clipPath id="cr6"><circle cx="14" cy="14" r="14"/></clipPath></defs>
<circle cx="14" cy="14" r="14" fill="#dcdcdc"/>
<g clip-path="url(#cr6)">
<path d="M7.5 29 C7.5 25.8 10 25 14 25 C18 25 20.5 25.8 20.5 29 Z" fill="#c6c6c6"/>
<rect x="11.5" y="22" width="5" height="4" fill="#e2e2e2"/>
<circle cx="6.9" cy="16.6" r="1.3" fill="#e2e2e2"/><circle cx="21.1" cy="16.6" r="1.3" fill="#e2e2e2"/>
<rect x="7.4" y="8.5" width="13.2" height="13" rx="3" fill="#ececec"/>
<path d="M6.8 12.5 C6.4 6.5 7.5 3.8 10.5 3.7 C12.5 3.2 17 3.3 19.5 3.8 C21.5 4.5 21.6 8 21.2 12.5 L20.6 10.6 C17 10.2 11 10.2 7.4 10.6 Z" fill="#b4b4b4"/>
<path d="M7.2 16.5 C7 21.5 9.5 24.8 14 24.8 C18.5 24.8 21 21.5 20.8 16.5 C20.3 18.6 19 19.3 17 19.1 C15.5 18.7 12.5 18.7 11 19.1 C9 19.3 7.7 18.6 7.2 16.5 Z" fill="#b4b4b4"/>
<path d="M12.4 20.7 H15.6 C15.6 21.8 15 22.3 14 22.3 C13 22.3 12.4 21.8 12.4 20.7 Z" fill="#f4f4f4"/>
<circle cx="10.4" cy="15.6" r="0.95" fill="#a8a8a8"/><circle cx="17.6" cy="15.6" r="0.95" fill="#a8a8a8"/>
</g></svg>
<div class="t" style="left:1119.4px;top:478px;font-size:19.4px;letter-spacing:-0.83px;color:#8e939f;">100%</div>
<svg class="abs" style="left:1211.2px;top:495.6px" width="22" height="10" viewBox="0 0 22 10"><rect x="1.3" y="2.15" width="19.4" height="5.7" rx="1.2" fill="#b6b8bf"/></svg>
<div class="t" style="left:1296.1px;top:478px;font-size:19.4px;letter-spacing:0.14px;color:#8e939f;">Nov 24</div>
<div class="cb" style="top:542.3px"></div>
<div class="t" style="left:160.1px;top:537px;font-size:19.4px;font-weight:bold;letter-spacing:-0.39px;color:#151a28;">Documents missing</div>
<div class="t" style="left:722.5px;top:537px;font-size:16.5px;letter-spacing:-0px;color:#3c4254;">Vendor issue</div>
<div class="av" style="left:937.1px;top:541.8px;background:#4a9bdc">SW</div>
<div class="t" style="left:1120.2px;top:537px;font-size:19.4px;font-weight:bold;letter-spacing:-0.42px;color:#151a28;">0%</div>
<svg class="abs" style="left:1212.2px;top:553.5px" width="20" height="11" viewBox="0 0 20 11"><path d="M0.2 0.2 H19.8 L10 10.7 Z" fill="#70778a"/></svg>
<div class="t" style="left:1296.4px;top:537px;font-size:19.4px;font-weight:bold;letter-spacing:-0.35px;color:#151a28;">Nov 27</div>
<div class="cb" style="top:601px"></div>
<div class="t" style="left:160.1px;top:596px;font-size:19.4px;font-weight:bold;letter-spacing:-0.25px;color:#151a28;">Component compatability</div>
<div class="t" style="left:722.8px;top:596px;font-size:16.5px;letter-spacing:0.1px;color:#3c4254;">Technology issue</div>
<div class="av" style="left:937.1px;top:600.5px;background:#a0a828">MS</div>
<div class="t" style="left:1120.2px;top:596px;font-size:19.4px;font-weight:bold;letter-spacing:-0.42px;color:#151a28;">0%</div>
<svg class="abs" style="left:1212.2px;top:606.9px" width="20" height="20" viewBox="0 0 20 20"><path d="M9.6 0.3 Q10 -0.1 10.4 0.3 L19.6 9.7 Q20 10.3 19.3 10.3 H14.9 V19 a0.9 0.9 0 0 1 -0.9 0.9 H6 a0.9 0.9 0 0 1 -0.9 -0.9 V10.3 H0.7 Q0 10.3 0.4 9.7 Z" fill="#e48c0e"/></svg>
<div class="t" style="left:1296.4px;top:596px;font-size:19.4px;font-weight:bold;letter-spacing:0.02px;color:#151a28;">Nov 28</div>
<svg class="abs" style="left:62px;top:646.1px" width="14" height="14" viewBox="0 0 14 14"><path d="M0 0H14L0 14Z" fill="#2f7d3b"/></svg>
<div class="cb" style="top:659.7px"></div>
<div class="t" style="left:159.8px;top:654px;font-size:19.4px;letter-spacing:-0.15px;color:#2f3546;">Resource issue</div>
<div class="t" style="left:1119.7px;top:654px;font-size:19.4px;letter-spacing:-0.32px;color:#2f3546;">39%</div>

<div class="t" style="left:1296.1px;top:654px;font-size:19.4px;letter-spacing:-0.62px;color:#2f3546;">Dec 1</div>
<div class="cb" style="top:719.2px"></div>
<div class="t" style="left:160.1px;top:713px;font-size:19.4px;font-weight:bold;letter-spacing:-0.37px;color:#151a28;">Delay in receiving resource</div>
<div class="t" style="left:721.9px;top:713px;font-size:16.5px;letter-spacing:-0.11px;color:#3c4254;">Resource issue</div>
<div class="av" style="left:937.1px;top:717.9px;background:#9d4bfb">JJ</div>
<div class="t" style="left:1120.2px;top:713px;font-size:19.4px;font-weight:bold;letter-spacing:-0.42px;color:#151a28;">0%</div>
<svg class="abs" style="left:1211.2px;top:730.4px" width="22" height="10" viewBox="0 0 22 10"><rect x="1.3" y="2.15" width="19.4" height="5.7" rx="1.2" fill="#70778a"/></svg>
<div class="t" style="left:1296.4px;top:713px;font-size:19.4px;font-weight:bold;letter-spacing:-1.03px;color:#151a28;">Dec 1</div>
<svg class="abs" style="left:95.1px;top:774.9px" width="32" height="32" viewBox="0 0 32 32"><circle cx="16" cy="16" r="15.6" fill="#6f7587"/><path d="M16 8.5 V23.5 M8.5 16 H23.5" stroke="#fff" stroke-width="2.2" stroke-linecap="round"/></svg>
<div class="t" style="left:159.8px;top:770px;font-size:19.4px;letter-spacing:0.05px;color:#8e939f;">New Task</div>
</body>
</html>
